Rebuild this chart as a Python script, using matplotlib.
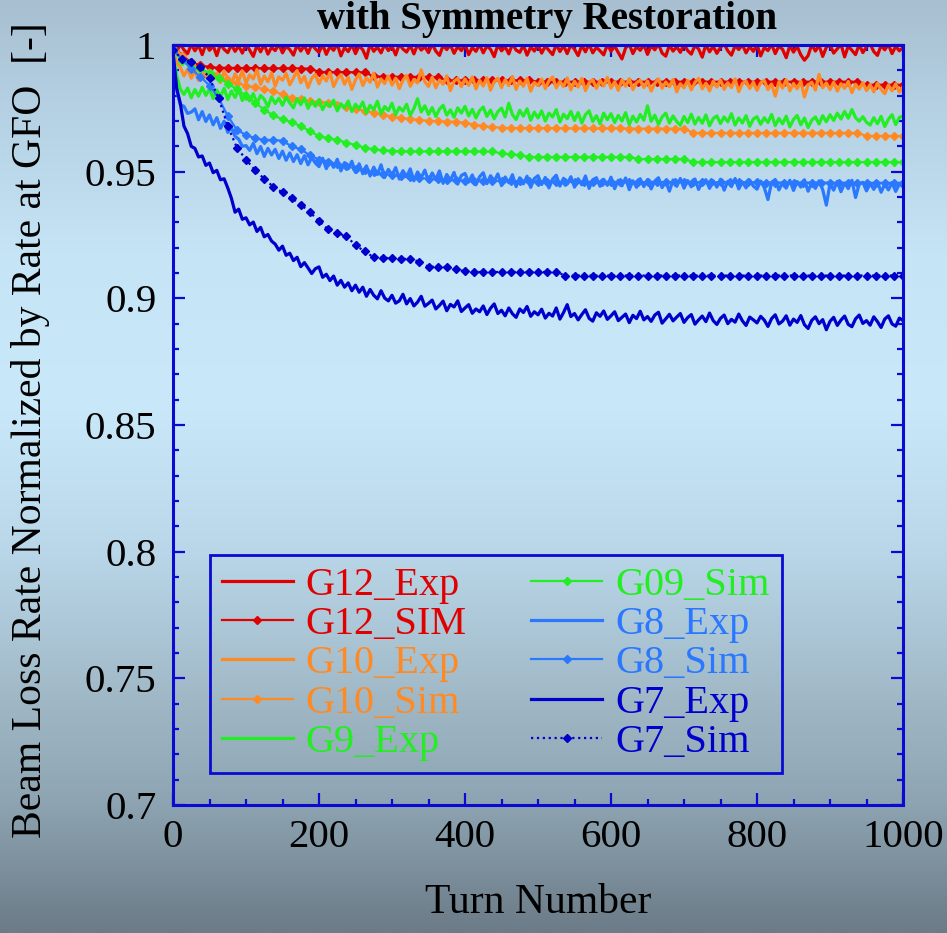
import numpy as np
import matplotlib
matplotlib.use("Agg")
import matplotlib.pyplot as plt
from matplotlib.ticker import MultipleLocator, FixedLocator, FixedFormatter

plt.rcParams["font.family"] = ["Liberation Serif", "DejaVu Serif"]

# ---------------------------------------------------------------- data
exp_turns = np.arange(0, 1001, 5)          # measured every 5 turns
sim_turns = np.linspace(0, 1000, 81)       # simulated every 12.5 turns

g12_exp = [
    1.0000, 0.9974, 1.0003, 0.9981, 0.9966, 1.0002, 0.9977, 0.9999, 0.9962, 1.0004,
    0.9979, 0.9997, 0.9958, 1.0003, 0.9983, 0.9970, 1.0001, 0.9975, 0.9996, 0.9968,
    1.0004, 0.9980, 0.9955, 0.9999, 0.9973, 1.0002, 0.9964, 0.9991, 0.9978, 1.0003,
    0.9969, 0.9995, 0.9982, 0.9960, 1.0001, 0.9976, 0.9998, 0.9967, 1.0003, 0.9985,
    0.9971, 1.0002, 0.9963, 0.9994, 0.9979, 1.0004, 0.9957, 0.9990, 0.9974, 1.0001,
    0.9966, 0.9997, 0.9981, 0.9948, 1.0003, 0.9975, 0.9992, 0.9969, 1.0002, 0.9978,
    0.9995, 0.9961, 1.0003, 0.9984, 0.9972, 0.9999, 0.9965, 1.0002, 0.9980, 0.9993,
    0.9970, 1.0004, 0.9976, 0.9959, 0.9998, 0.9982, 1.0001, 0.9967, 0.9994, 0.9978,
    1.0003, 0.9962, 0.9990, 0.9975, 1.0002, 0.9969, 0.9996, 0.9983, 0.9954, 1.0001,
    0.9977, 0.9993, 0.9965, 1.0004, 0.9980, 0.9971, 0.9999, 0.9960, 0.9992, 0.9976,
    1.0002, 0.9968, 0.9995, 0.9979, 0.9962, 1.0003, 0.9974, 0.9997, 0.9966, 1.0001,
    0.9983, 0.9958, 0.9998, 0.9973, 1.0004, 0.9969, 0.9991, 0.9977, 0.9961, 1.0002,
    0.9975, 0.9996, 0.9970, 0.9945, 0.9988, 1.0003, 0.9966, 0.9994, 0.9979, 1.0001,
    0.9963, 0.9997, 0.9981, 1.0004, 0.9968, 0.9956, 0.9999, 0.9976, 0.9993, 0.9971,
    1.0003, 0.9978, 0.9964, 0.9998, 0.9984, 0.9952, 1.0002, 0.9973, 0.9995, 0.9967,
    0.9991, 1.0004, 0.9977, 0.9960, 0.9997, 0.9982, 1.0001, 0.9969, 0.9994, 0.9975,
    1.0002, 0.9957, 0.9990, 0.9978, 1.0003, 0.9966, 0.9996, 0.9983, 0.9950, 0.9998,
    0.9972, 0.9995, 0.9961, 0.9940, 0.9958, 1.0002, 0.9976, 0.9999, 0.9955, 0.9991,
    1.0001, 0.9968, 0.9985, 1.0003, 0.9953, 0.9996, 0.9979, 0.9962, 1.0002, 0.9970,
    0.9993, 1.0004, 0.9974, 0.9959, 0.9998, 0.9981, 1.0002, 0.9966, 0.9995, 0.9977,
    0.9990,
]

g12_sim = [
    1.0000, 0.9958, 0.9932, 0.9920, 0.9913,
    0.9910, 0.9910, 0.9909, 0.9909, 0.9909, 0.9908, 0.9908, 0.9908, 0.9908, 0.9907, 0.9907,
    0.9894, 0.9893, 0.9893, 0.9893, 0.9892, 0.9892,
    0.9876, 0.9875, 0.9875, 0.9874, 0.9874, 0.9874, 0.9874, 0.9873,
    0.9860, 0.9860, 0.9860, 0.9860, 0.9860, 0.9860, 0.9860, 0.9860, 0.9860, 0.9860,
    0.9855, 0.9855, 0.9855, 0.9855, 0.9855, 0.9855, 0.9855, 0.9855, 0.9855,
    0.9855, 0.9855, 0.9855, 0.9855, 0.9855, 0.9855, 0.9855, 0.9855, 0.9855,
    0.9855, 0.9855, 0.9855, 0.9855, 0.9855, 0.9855, 0.9855, 0.9855, 0.9855,
    0.9855, 0.9855, 0.9855, 0.9855, 0.9855, 0.9855, 0.9855, 0.9855, 0.9855,
    0.9843, 0.9843, 0.9843, 0.9843, 0.9843,
]

g10_exp = [
    0.9980, 0.9930, 0.9912, 0.9878, 0.9905, 0.9869, 0.9898, 0.9860, 0.9893, 0.9872,
    0.9901, 0.9864, 0.9889, 0.9852, 0.9895, 0.9868, 0.9842, 0.9886, 0.9859, 0.9897,
    0.9850, 0.9882, 0.9866, 0.9903, 0.9845, 0.9878, 0.9855, 0.9890, 0.9838, 0.9874,
    0.9861, 0.9888, 0.9843, 0.9870, 0.9899, 0.9851, 0.9876, 0.9832, 0.9868, 0.9884,
    0.9847, 0.9879, 0.9858, 0.9892, 0.9836, 0.9866, 0.9883, 0.9845, 0.9873, 0.9825,
    0.9862, 0.9886, 0.9840, 0.9871, 0.9853, 0.9889, 0.9834, 0.9866, 0.9848, 0.9878,
    0.9842, 0.9869, 0.9828, 0.9861, 0.9880, 0.9837, 0.9864, 0.9850, 0.9902, 0.9855,
    0.9836, 0.9873, 0.9831, 0.9862, 0.9845, 0.9878, 0.9820, 0.9857, 0.9868, 0.9835,
    0.9866, 0.9841, 0.9874, 0.9827, 0.9860, 0.9838, 0.9871, 0.9822, 0.9855, 0.9869,
    0.9832, 0.9863, 0.9840, 0.9876, 0.9825, 0.9858, 0.9837, 0.9869, 0.9818, 0.9852,
    0.9840, 0.9866, 0.9828, 0.9859, 0.9874, 0.9831, 0.9856, 0.9836, 0.9870, 0.9823,
    0.9857, 0.9834, 0.9868, 0.9820, 0.9851, 0.9863, 0.9829, 0.9860, 0.9838, 0.9872,
    0.9830, 0.9855, 0.9821, 0.9862, 0.9837, 0.9867, 0.9824, 0.9851, 0.9861, 0.9832,
    0.9858, 0.9818, 0.9849, 0.9866, 0.9829, 0.9854, 0.9835, 0.9864, 0.9815, 0.9847,
    0.9831, 0.9860, 0.9823, 0.9852, 0.9868, 0.9827, 0.9849, 0.9819, 0.9857, 0.9834,
    0.9862, 0.9825, 0.9851, 0.9832, 0.9866, 0.9816, 0.9848, 0.9857, 0.9828, 0.9853,
    0.9821, 0.9850, 0.9860, 0.9824, 0.9846, 0.9798, 0.9855, 0.9830, 0.9863, 0.9819,
    0.9848, 0.9827, 0.9857, 0.9795, 0.9842, 0.9853, 0.9822, 0.9884, 0.9831, 0.9850,
    0.9824, 0.9853, 0.9818, 0.9847, 0.9829, 0.9856, 0.9812, 0.9845, 0.9826, 0.9851,
    0.9820, 0.9844, 0.9815, 0.9849, 0.9825, 0.9808, 0.9842, 0.9819, 0.9847, 0.9814,
    0.9835,
]

g10_sim = [
    1.0000, 0.9955, 0.9925, 0.9905, 0.9888, 0.9875, 0.9862, 0.9850, 0.9840, 0.9833,
    0.9826, 0.9817, 0.9805, 0.9792, 0.9786, 0.9778, 0.9775, 0.9772, 0.9762, 0.9755,
    0.9748, 0.9740, 0.9733, 0.9725, 0.9717, 0.9712, 0.9708, 0.9704, 0.9701, 0.9699,
    0.9698, 0.9697, 0.9693, 0.9686, 0.9680, 0.9676, 0.9674,
    0.9672, 0.9672, 0.9672, 0.9672, 0.9672, 0.9672,
    0.9671, 0.9671, 0.9671, 0.9671, 0.9671, 0.9671, 0.9671,
    0.9670, 0.9670, 0.9670, 0.9670, 0.9670, 0.9670, 0.9670,
    0.9653, 0.9653, 0.9653, 0.9653, 0.9653, 0.9653, 0.9653, 0.9653, 0.9653, 0.9653,
    0.9653, 0.9653, 0.9653, 0.9653, 0.9653, 0.9653, 0.9653, 0.9653, 0.9653,
    0.9641, 0.9641, 0.9641, 0.9641, 0.9641,
]

g9_exp = [
    0.9970, 0.9880, 0.9826, 0.9805, 0.9830, 0.9792, 0.9824, 0.9798, 0.9833, 0.9801,
    0.9827, 0.9789, 0.9822, 0.9796, 0.9829, 0.9785, 0.9818, 0.9793, 0.9824, 0.9781,
    0.9812, 0.9779, 0.9808, 0.9770, 0.9801, 0.9786, 0.9756, 0.9795, 0.9769, 0.9790,
    0.9762, 0.9794, 0.9771, 0.9752, 0.9788, 0.9764, 0.9791, 0.9750, 0.9779, 0.9758,
    0.9784, 0.9745, 0.9773, 0.9757, 0.9782, 0.9740, 0.9768, 0.9751, 0.9779, 0.9737,
    0.9766, 0.9748, 0.9775, 0.9731, 0.9762, 0.9744, 0.9778, 0.9729, 0.9757, 0.9741,
    0.9770, 0.9725, 0.9754, 0.9739, 0.9766, 0.9722, 0.9749, 0.9788, 0.9736, 0.9760,
    0.9726, 0.9753, 0.9718, 0.9747, 0.9762, 0.9723, 0.9744, 0.9715, 0.9752, 0.9731,
    0.9758, 0.9720, 0.9746, 0.9712, 0.9741, 0.9755, 0.9718, 0.9743, 0.9709, 0.9737,
    0.9751, 0.9716, 0.9770, 0.9725, 0.9706, 0.9742, 0.9719, 0.9748, 0.9703, 0.9735,
    0.9712, 0.9740, 0.9700, 0.9731, 0.9716, 0.9745, 0.9696, 0.9727, 0.9709, 0.9738,
    0.9702, 0.9733, 0.9692, 0.9725, 0.9740, 0.9698, 0.9721, 0.9689, 0.9731, 0.9705,
    0.9729, 0.9694, 0.9722, 0.9700, 0.9733, 0.9686, 0.9719, 0.9696, 0.9726, 0.9703,
    0.9760, 0.9699, 0.9723, 0.9687, 0.9716, 0.9731, 0.9692, 0.9720, 0.9698, 0.9683,
    0.9718, 0.9694, 0.9727, 0.9688, 0.9714, 0.9691, 0.9724, 0.9681, 0.9710, 0.9720,
    0.9690, 0.9716, 0.9697, 0.9729, 0.9684, 0.9712, 0.9692, 0.9721, 0.9679, 0.9708,
    0.9717, 0.9687, 0.9713, 0.9694, 0.9726, 0.9682, 0.9710, 0.9689, 0.9719, 0.9677,
    0.9706, 0.9722, 0.9685, 0.9712, 0.9674, 0.9703, 0.9716, 0.9688, 0.9721, 0.9697,
    0.9725, 0.9702, 0.9731, 0.9708, 0.9738, 0.9711, 0.9745, 0.9713, 0.9699, 0.9717,
    0.9695, 0.9684, 0.9713, 0.9689, 0.9718, 0.9678, 0.9707, 0.9725, 0.9686, 0.9714,
    0.9720,
]

g9_sim = [
    0.9980, 0.9935, 0.9915, 0.9905, 0.9890, 0.9870, 0.9848, 0.9825, 0.9800, 0.9772,
    0.9745, 0.9722, 0.9707, 0.9695, 0.9680, 0.9660, 0.9640, 0.9632, 0.9625, 0.9615,
    0.9605, 0.9595, 0.9588, 0.9584, 0.9582,
    0.9580, 0.9580, 0.9580, 0.9580, 0.9580, 0.9580, 0.9580, 0.9580, 0.9580, 0.9580, 0.9580,
    0.9572, 0.9568, 0.9566,
    0.9558, 0.9558, 0.9558, 0.9558, 0.9558, 0.9558, 0.9558, 0.9558, 0.9558, 0.9558, 0.9558, 0.9558,
    0.9550, 0.9550, 0.9550, 0.9550, 0.9550, 0.9550,
    0.9538, 0.9538, 0.9538, 0.9538, 0.9538, 0.9538, 0.9538, 0.9538,
    0.9538, 0.9538, 0.9538, 0.9538, 0.9538, 0.9538, 0.9538, 0.9538,
    0.9538, 0.9538, 0.9538, 0.9538, 0.9538, 0.9538, 0.9538, 0.9538,
]

g8_exp = [
    0.9970, 0.9822, 0.9765, 0.9758, 0.9730, 0.9735, 0.9748, 0.9705, 0.9737, 0.9698,
    0.9724, 0.9685, 0.9713, 0.9671, 0.9699, 0.9655, 0.9674, 0.9640, 0.9628, 0.9600,
    0.9603, 0.9584, 0.9612, 0.9571, 0.9599, 0.9560, 0.9592, 0.9566, 0.9588, 0.9552,
    0.9581, 0.9545, 0.9574, 0.9540, 0.9567, 0.9532, 0.9563, 0.9527, 0.9556, 0.9534,
    0.9520, 0.9553, 0.9512, 0.9542, 0.9517, 0.9549, 0.9503, 0.9536, 0.9511, 0.9541,
    0.9497, 0.9531, 0.9492, 0.9523, 0.9483, 0.9518, 0.9489, 0.9527, 0.9477, 0.9509,
    0.9486, 0.9516, 0.9471, 0.9504, 0.9480, 0.9511, 0.9464, 0.9499, 0.9476, 0.9506,
    0.9461, 0.9495, 0.9469, 0.9503, 0.9454, 0.9489, 0.9466, 0.9497, 0.9451, 0.9485,
    0.9493, 0.9459, 0.9487, 0.9448, 0.9480, 0.9496, 0.9453, 0.9484, 0.9462, 0.9491,
    0.9445, 0.9479, 0.9456, 0.9488, 0.9441, 0.9476, 0.9452, 0.9482, 0.9438, 0.9473,
    0.9484, 0.9449, 0.9477, 0.9436, 0.9471, 0.9486, 0.9443, 0.9474, 0.9451, 0.9480,
    0.9439, 0.9472, 0.9448, 0.9483, 0.9434, 0.9468, 0.9476, 0.9442, 0.9470, 0.9446,
    0.9478, 0.9433, 0.9466, 0.9444, 0.9475, 0.9429, 0.9464, 0.9438, 0.9472, 0.9441,
    0.9469, 0.9432, 0.9463, 0.9476, 0.9437, 0.9461, 0.9423, 0.9467, 0.9442, 0.9473,
    0.9435, 0.9465, 0.9440, 0.9471, 0.9430, 0.9460, 0.9468, 0.9434, 0.9464, 0.9439,
    0.9470, 0.9427, 0.9462, 0.9441, 0.9473, 0.9432, 0.9459, 0.9436, 0.9467, 0.9443,
    0.9431, 0.9463, 0.9437, 0.9390, 0.9458, 0.9469, 0.9428, 0.9457, 0.9435, 0.9466,
    0.9426, 0.9461, 0.9439, 0.9468, 0.9423, 0.9456, 0.9434, 0.9464, 0.9429, 0.9368,
    0.9453, 0.9427, 0.9462, 0.9421, 0.9455, 0.9433, 0.9466, 0.9398, 0.9451, 0.9458,
    0.9424, 0.9454, 0.9430, 0.9461, 0.9419, 0.9450, 0.9428, 0.9457, 0.9422, 0.9452,
    0.9440,
]

g8_sim = [
    0.9980, 0.9945, 0.9905, 0.9875, 0.9840, 0.9790, 0.9720, 0.9665, 0.9645, 0.9632,
    0.9625, 0.9625, 0.9622, 0.9600, 0.9588, 0.9565, 0.9548, 0.9540, 0.9530, 0.9522,
    0.9512, 0.9505, 0.9498, 0.9492, 0.9486, 0.9482, 0.9478, 0.9475, 0.9472, 0.9470,
    0.9468, 0.9466, 0.9465, 0.9465, 0.9464, 0.9464, 0.9463, 0.9463, 0.9462, 0.9462,
    0.9461,
    0.9460, 0.9460, 0.9460, 0.9460, 0.9460, 0.9460, 0.9460, 0.9460,
    0.9459, 0.9459, 0.9459, 0.9459, 0.9459, 0.9459, 0.9459, 0.9459,
    0.9458, 0.9458, 0.9458, 0.9458, 0.9458, 0.9458, 0.9458, 0.9458,
    0.9457, 0.9457, 0.9457, 0.9457, 0.9457, 0.9457, 0.9457, 0.9457,
    0.9456, 0.9456, 0.9456, 0.9456, 0.9456, 0.9456, 0.9456, 0.9456,
]

g7_exp = [
    0.9970, 0.9830, 0.9770, 0.9680, 0.9650, 0.9600, 0.9592, 0.9558, 0.9562, 0.9525,
    0.9534, 0.9496, 0.9505, 0.9468, 0.9472, 0.9436, 0.9395, 0.9340, 0.9352, 0.9312,
    0.9318, 0.9290, 0.9301, 0.9264, 0.9280, 0.9243, 0.9252, 0.9226, 0.9214, 0.9190,
    0.9206, 0.9170, 0.9178, 0.9149, 0.9162, 0.9125, 0.9141, 0.9120, 0.9098, 0.9117,
    0.9124, 0.9083, 0.9095, 0.9070, 0.9088, 0.9052, 0.9071, 0.9044, 0.9061, 0.9030,
    0.9052, 0.9024, 0.9044, 0.9008, 0.9035, 0.9012, 0.8998, 0.9030, 0.9001, 0.8990,
    0.9012, 0.8981, 0.8990, 0.9016, 0.8978, 0.8999, 0.8970, 0.8985, 0.9008, 0.8969,
    0.8980, 0.8993, 0.8958, 0.8972, 0.8989, 0.8951, 0.8976, 0.8966, 0.8990, 0.8948,
    0.8962, 0.8975, 0.8941, 0.8958, 0.8947, 0.8970, 0.8936, 0.8961, 0.8978, 0.8940,
    0.8953, 0.8931, 0.8962, 0.8939, 0.8925, 0.8958, 0.8944, 0.8968, 0.8929, 0.8947,
    0.8935, 0.8957, 0.8922, 0.8941, 0.8930, 0.8962, 0.8918, 0.8944, 0.8975, 0.8928,
    0.8940, 0.8915, 0.8936, 0.8955, 0.8921, 0.8910, 0.8943, 0.8929, 0.8950, 0.8917,
    0.8931, 0.8947, 0.8912, 0.8925, 0.8938, 0.8904, 0.8933, 0.8920, 0.8949, 0.8915,
    0.8928, 0.8909, 0.8934, 0.8945, 0.8902, 0.8919, 0.8937, 0.8911, 0.8926, 0.8940,
    0.8905, 0.8924, 0.8936, 0.8898, 0.8915, 0.8930, 0.8908, 0.8942, 0.8912, 0.8897,
    0.8921, 0.8934, 0.8900, 0.8917, 0.8906, 0.8938, 0.8911, 0.8893, 0.8926, 0.8915,
    0.8903, 0.8929, 0.8914, 0.8889, 0.8920, 0.8935, 0.8899, 0.8910, 0.8931, 0.8894,
    0.8918, 0.8905, 0.8932, 0.8896, 0.8881, 0.8913, 0.8927, 0.8900, 0.8916, 0.8876,
    0.8909, 0.8925, 0.8893, 0.8914, 0.8930, 0.8897, 0.8888, 0.8919, 0.8934, 0.8901,
    0.8912, 0.8894, 0.8927, 0.8908, 0.8885, 0.8918, 0.8931, 0.8899, 0.8890, 0.8922,
    0.8912,
]

g7_sim = [
    0.9980, 0.9945, 0.9932, 0.9915, 0.9870, 0.9790, 0.9680, 0.9595, 0.9548, 0.9505,
    0.9472, 0.9440, 0.9418, 0.9395, 0.9370, 0.9340, 0.9305, 0.9272, 0.9258, 0.9245,
    0.9210, 0.9185, 0.9162, 0.9160, 0.9158, 0.9156, 0.9155, 0.9145, 0.9125, 0.9124,
    0.9123, 0.9115, 0.9106,
    0.9104, 0.9104, 0.9104, 0.9104, 0.9104, 0.9104, 0.9104, 0.9104, 0.9104, 0.9104,
    0.9090, 0.9090, 0.9090, 0.9090, 0.9090, 0.9090, 0.9090, 0.9090, 0.9090, 0.9090,
    0.9090, 0.9090, 0.9090, 0.9090, 0.9090, 0.9090, 0.9090, 0.9090, 0.9090, 0.9090,
    0.9090, 0.9090, 0.9090, 0.9090, 0.9090, 0.9090, 0.9090, 0.9090, 0.9090, 0.9090,
    0.9090, 0.9090, 0.9090, 0.9090, 0.9090, 0.9090, 0.9090, 0.9090,
]

labels = ["G12_Exp", "G12_SIM", "G10_Exp", "G10_Sim", "G9_Exp",
          "G09_Sim", "G8_Exp", "G8_Sim", "G7_Exp", "G7_Sim"]
x_tick_values = [0, 200, 400, 600, 800, 1000]
x_tick_labels = ["0", "200", "400", "600", "800", "1000"]
y_tick_values = [0.7, 0.75, 0.8, 0.85, 0.9, 0.95, 1.0]
y_tick_labels = ["0.7", "0.75", "0.8", "0.85", "0.9", "0.95", "1"]

# ---------------------------------------------------------------- style
RED, ORANGE, GREEN, LBLUE, DBLUE = "#e00000", "#ff8a24", "#22ee22", "#2a78ff", "#0000cc"
FRAME = "#0a0ad2"

series = [
    (exp_turns, g12_exp, RED, "-", None),
    (sim_turns, g12_sim, RED, "-", "D"),
    (exp_turns, g10_exp, ORANGE, "-", None),
    (sim_turns, g10_sim, ORANGE, "-", "D"),
    (exp_turns, g9_exp, GREEN, "-", None),
    (sim_turns, g9_sim, GREEN, "-", "D"),
    (exp_turns, g8_exp, LBLUE, "-", None),
    (sim_turns, g8_sim, LBLUE, "-", "D"),
    (exp_turns, g7_exp, DBLUE, "-", None),
    (sim_turns, g7_sim, DBLUE, ":", "D"),
]

W, H = 947, 933
fig = plt.figure(figsize=(W / 100, H / 100), dpi=100)

# vertical background gradient behind everything
bg = fig.add_axes([0, 0, 1, 1], zorder=-5)
stops = [0.00, 0.11, 0.27, 0.43, 0.59, 0.75, 0.86, 1.00]
rgb = np.array([
    [167, 191, 208],
    [180, 208, 226],
    [197, 228, 246],
    [201, 233, 251],
    [185, 215, 233],
    [160, 184, 198],
    [142, 164, 178],
    [107, 123, 135],
]) / 255.0
rows = np.linspace(0, 1, H)
grad = np.stack([np.interp(rows, stops, rgb[:, k]) for k in range(3)], axis=-1)
bg.imshow(grad[:, None, :], aspect="auto", extent=(0, 1, 0, 1), interpolation="bilinear")
bg.set_axis_off()

ax = fig.add_axes([173 / W, 1 - 805 / H, 730 / W, 760 / H])
ax.set_facecolor("none")

for (tx, vals, col, ls, mk), lab in zip(series, labels):
    if mk is None:
        ax.plot(tx, vals, color=col, lw=2.3, ls=ls, label=lab)
    else:
        ms = 4.4 if ls == ":" else 3.6
        ax.plot(tx, vals, color=col, lw=1.6, ls=ls, marker=mk, ms=ms,
                mec=col, mfc=col, label=lab)

ax.set_xlim(0, 1000)
ax.set_ylim(0.7, 1.0)

ax.xaxis.set_major_locator(FixedLocator(x_tick_values))
ax.xaxis.set_major_formatter(FixedFormatter(x_tick_labels))
ax.xaxis.set_minor_locator(MultipleLocator(50))
ax.yaxis.set_major_locator(FixedLocator(y_tick_values))
ax.yaxis.set_major_formatter(FixedFormatter(y_tick_labels))
ax.yaxis.set_minor_locator(MultipleLocator(0.01))

ax.tick_params(which="both", direction="in", top=True, right=True,
               color=FRAME, width=1.6, labelsize=29.5, labelcolor="black")
ax.tick_params(which="major", length=8.5)
ax.tick_params(which="minor", length=4.3)
ax.tick_params(axis="x", pad=10)
ax.tick_params(axis="y", pad=12)
for sp in ax.spines.values():
    sp.set_color(FRAME)
    sp.set_linewidth(2.2)

ax.set_xlabel("Turn Number", fontsize=30)
ax.xaxis.set_label_coords(0.5, -0.103)
ax.set_ylabel("Beam Loss Rate Normalized by Rate at GFO  [-]", fontsize=30)
ax.yaxis.set_label_coords(-0.168, 0.493)

fig.text(0.578, 0.999, "with Symmetry Restoration", ha="center", va="top",
         fontsize=28, fontweight="bold")

leg = ax.legend(ncol=2, loc="lower left", bbox_to_anchor=(37 / 730, 32 / 760),
                borderaxespad=0, fontsize=29, handlelength=1.75, handletextpad=0.33,
                columnspacing=1.6, labelspacing=0.05, borderpad=0.3,
                fancybox=False, framealpha=1)
leg.get_frame().set_facecolor("none")
leg.get_frame().set_edgecolor(FRAME)
leg.get_frame().set_linewidth(2.0)
for txt, line in zip(leg.get_texts(), leg.get_lines()):
    txt.set_color(line.get_color())

fig.savefig("out.png", dpi=100)
